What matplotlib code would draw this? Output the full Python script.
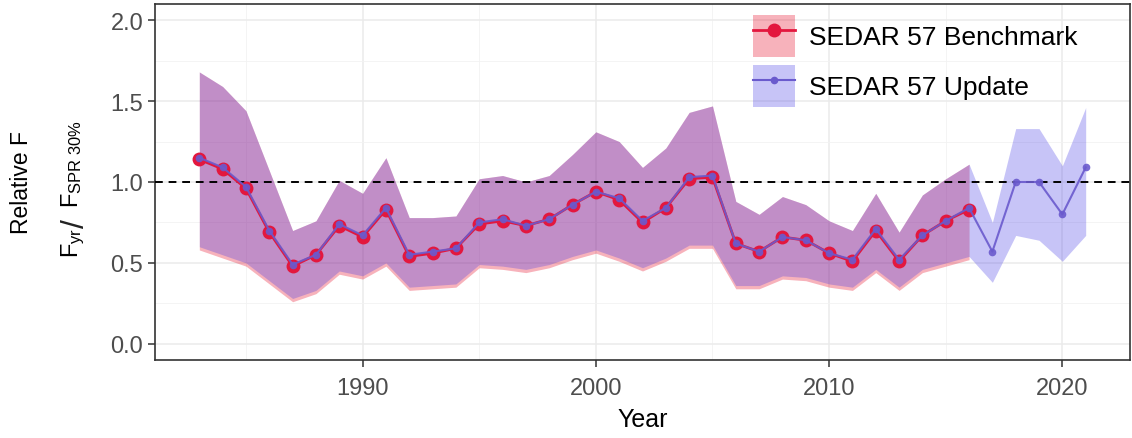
import matplotlib
matplotlib.use("Agg")
import matplotlib.pyplot as plt
from matplotlib.patches import Patch
from matplotlib.lines import Line2D
from matplotlib.legend_handler import HandlerTuple
from matplotlib.ticker import MultipleLocator

plt.rcParams['font.family'] = ['Liberation Sans', 'DejaVu Sans']
plt.rcParams['mathtext.fontset'] = 'custom'
plt.rcParams['mathtext.rm'] = 'Liberation Sans'
plt.rcParams['mathtext.it'] = 'Liberation Sans'

# SEDAR 57 Benchmark (1983-2016)
bench_years = list(range(1983, 2017))
bench_f = [1.14, 1.08, 0.96, 0.69, 0.48, 0.55, 0.73, 0.66, 0.83, 0.54,
           0.56, 0.59, 0.74, 0.76, 0.73, 0.77, 0.86, 0.94, 0.89, 0.75,
           0.84, 1.02, 1.03, 0.62, 0.57, 0.66, 0.64, 0.56, 0.51, 0.70,
           0.51, 0.67, 0.76, 0.83]
bench_lo = [0.58, 0.53, 0.48, 0.37, 0.26, 0.31, 0.43, 0.40, 0.48, 0.33,
            0.34, 0.35, 0.47, 0.46, 0.44, 0.47, 0.52, 0.56, 0.51, 0.45,
            0.51, 0.59, 0.59, 0.34, 0.34, 0.40, 0.39, 0.35, 0.33, 0.44,
            0.33, 0.44, 0.48, 0.52]
bench_hi = [1.68, 1.59, 1.44, 1.07, 0.70, 0.76, 1.01, 0.93, 1.15, 0.78,
            0.78, 0.79, 1.02, 1.04, 1.00, 1.04, 1.17, 1.31, 1.25, 1.09,
            1.21, 1.43, 1.47, 0.88, 0.80, 0.91, 0.86, 0.76, 0.70, 0.93,
            0.69, 0.92, 1.02, 1.11]

# SEDAR 57 Update (1983-2021)
upd_years = list(range(1983, 2022))
upd_f = [1.15, 1.09, 0.97, 0.70, 0.49, 0.55, 0.74, 0.67, 0.84, 0.55,
         0.57, 0.59, 0.75, 0.77, 0.73, 0.77, 0.86, 0.94, 0.90, 0.76,
         0.84, 1.03, 1.04, 0.62, 0.57, 0.66, 0.64, 0.56, 0.52, 0.71,
         0.52, 0.67, 0.76, 0.84, 0.57, 1.00, 1.00, 0.80, 1.09]
upd_lo = [0.60, 0.55, 0.50, 0.39, 0.28, 0.33, 0.45, 0.42, 0.50, 0.35,
          0.36, 0.37, 0.49, 0.48, 0.46, 0.49, 0.54, 0.58, 0.53, 0.47,
          0.53, 0.61, 0.61, 0.36, 0.36, 0.42, 0.41, 0.37, 0.35, 0.46,
          0.35, 0.46, 0.50, 0.54, 0.38, 0.67, 0.64, 0.51, 0.67]
upd_hi = [1.68, 1.59, 1.44, 1.07, 0.70, 0.76, 1.01, 0.93, 1.15, 0.78,
          0.78, 0.79, 1.02, 1.04, 1.00, 1.04, 1.17, 1.31, 1.25, 1.09,
          1.21, 1.43, 1.47, 0.88, 0.80, 0.91, 0.86, 0.76, 0.70, 0.93,
          0.69, 0.92, 1.02, 1.11, 0.75, 1.33, 1.33, 1.10, 1.46]

red = '#E6001E'
blue = '#463CE6'
red_pt = '#E3173E'
blue_pt = '#6A5ACD'

W, H = 1132, 439
fig = plt.figure(figsize=(W / 100, H / 100), dpi=100)
ax = fig.add_axes([155 / W, 1 - 361 / H, 975 / W, 356 / H])

# ribbons
ax.fill_between(bench_years, bench_lo, bench_hi, color=red, alpha=0.3, lw=0, zorder=2)
ax.fill_between(upd_years, upd_lo, upd_hi, color=blue, alpha=0.3, lw=0, zorder=3)

# reference line
ax.axhline(1.0, color='black', ls=(0, (4, 3)), lw=1.4, zorder=4)

# lines + points
ax.plot(bench_years, bench_f, color=red_pt, lw=2, marker='o', ms=10,
        markeredgewidth=0, zorder=5)
ax.plot(upd_years, upd_f, color=blue_pt, lw=1.5, marker='o', ms=5.5,
        markeredgewidth=0, alpha=0.9, zorder=6)

ax.set_xlim(1981.1, 2022.9)
ax.set_ylim(-0.1, 2.1)
ax.xaxis.set_major_locator(MultipleLocator(10))
ax.xaxis.set_minor_locator(MultipleLocator(5))
ax.yaxis.set_major_locator(MultipleLocator(0.5))
ax.yaxis.set_minor_locator(MultipleLocator(0.25))
ax.set_yticks([0, 0.5, 1.0, 1.5, 2.0])
ax.set_yticklabels(['0.0', '0.5', '1.0', '1.5', '2.0'])

ax.grid(which='major', color='#EBEBEB', lw=1.1)
ax.grid(which='minor', color='#F2F2F2', lw=0.6)
ax.set_axisbelow(True)
for s in ax.spines.values():
    s.set_color('#333333')
    s.set_linewidth(1.2)
ax.tick_params(which='major', length=5, width=1.1, color='#333333',
               labelsize=17, labelcolor='#4D4D4D')
ax.tick_params(axis='x', pad=7)
ax.tick_params(which='minor', length=0)

ax.set_xlabel('Year', fontsize=18, labelpad=6)

# y axis title: "Relative F" and F_yr / F_SPR 30%
fig.text(22 / W, 1 - 183 / H, 'Relative F', rotation=90, fontsize=16.5,
         ha='center', va='center')
tkw = dict(rotation=90, rotation_mode='anchor', ha='left', va='baseline')
fig.text(78 / W, 1 - 258 / H, r'$F_{yr}$', fontsize=17, **tkw)
fig.text(84 / W, 1 - 228 / H, '/', fontsize=23, color='#222222', **tkw)
fig.text(78 / W, 1 - 208 / H, r'$F_{SPR\ 30\%}$', fontsize=17, **tkw)

# legend
h1 = (Patch(facecolor=red, alpha=0.3, lw=0),
      Line2D([], [], color=red_pt, lw=2, marker='o', ms=10, markeredgewidth=0))
h2 = (Patch(facecolor=blue, alpha=0.3, lw=0),
      Line2D([], [], color=blue_pt, lw=1.5, marker='o', ms=5.5, markeredgewidth=0))
ax.legend([h1, h2], ['SEDAR 57 Benchmark', 'SEDAR 57 Update'],
          handler_map={tuple: HandlerTuple(ndivide=1, pad=0)},
          loc='upper left', bbox_to_anchor=(0.613, 0.969), frameon=False,
          fontsize=19, handlelength=1.6, handleheight=2.07, handletextpad=0.55,
          labelspacing=0.3, borderpad=0, borderaxespad=0)

fig.savefig('out.png', dpi=100)
